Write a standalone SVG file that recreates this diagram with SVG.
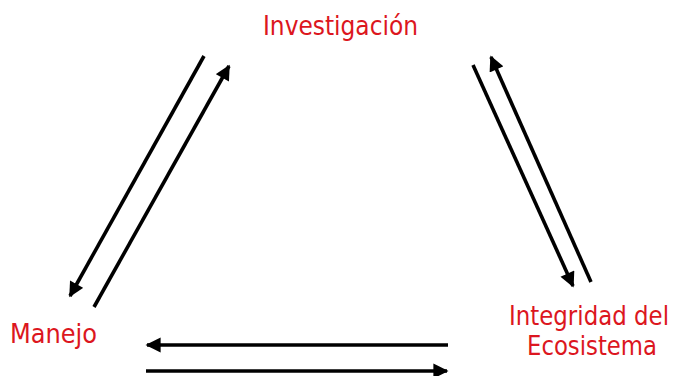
<svg xmlns="http://www.w3.org/2000/svg" width="678" height="376" viewBox="0 0 678 376">
<style>
.lbl{font-family:"DejaVu Sans Condensed","Liberation Sans",sans-serif;font-size:27px;fill:#dc1620}
.ln{stroke:#000;stroke-width:3.6;fill:none;marker-end:url(#ah)}
</style>
<defs>
<marker id="ah" viewBox="0 0 10 10" refX="9" refY="5" markerWidth="4.4" markerHeight="4.2" orient="auto" markerUnits="strokeWidth">
<path d="M0,0 L10,5 L0,10 z" fill="#000"/>
</marker>
</defs>
<rect width="678" height="376" fill="#fff"/>
<g id="investigacion"><text class="lbl" x="263" y="35" textLength="155" lengthAdjust="spacingAndGlyphs">Investigación</text></g>
<g id="manejo"><text class="lbl" x="10" y="343" textLength="87" lengthAdjust="spacingAndGlyphs">Manejo</text></g>
<g id="integridad"><text class="lbl" x="509" y="325" textLength="160" lengthAdjust="spacingAndGlyphs">Integridad del</text><text class="lbl" x="527" y="355" textLength="130" lengthAdjust="spacingAndGlyphs">Ecosistema</text></g>
<g id="connectors">
<line class="ln" x1="204" y1="56" x2="70" y2="296"/>
<line class="ln" x1="94" y1="307" x2="229" y2="66"/>
<line class="ln" x1="473" y1="65" x2="573" y2="286"/>
<line class="ln" x1="591" y1="282" x2="491" y2="57"/>
<line class="ln" x1="448" y1="345" x2="147" y2="345"/>
<line class="ln" x1="146" y1="371" x2="447" y2="371"/>
</g>
</svg>
